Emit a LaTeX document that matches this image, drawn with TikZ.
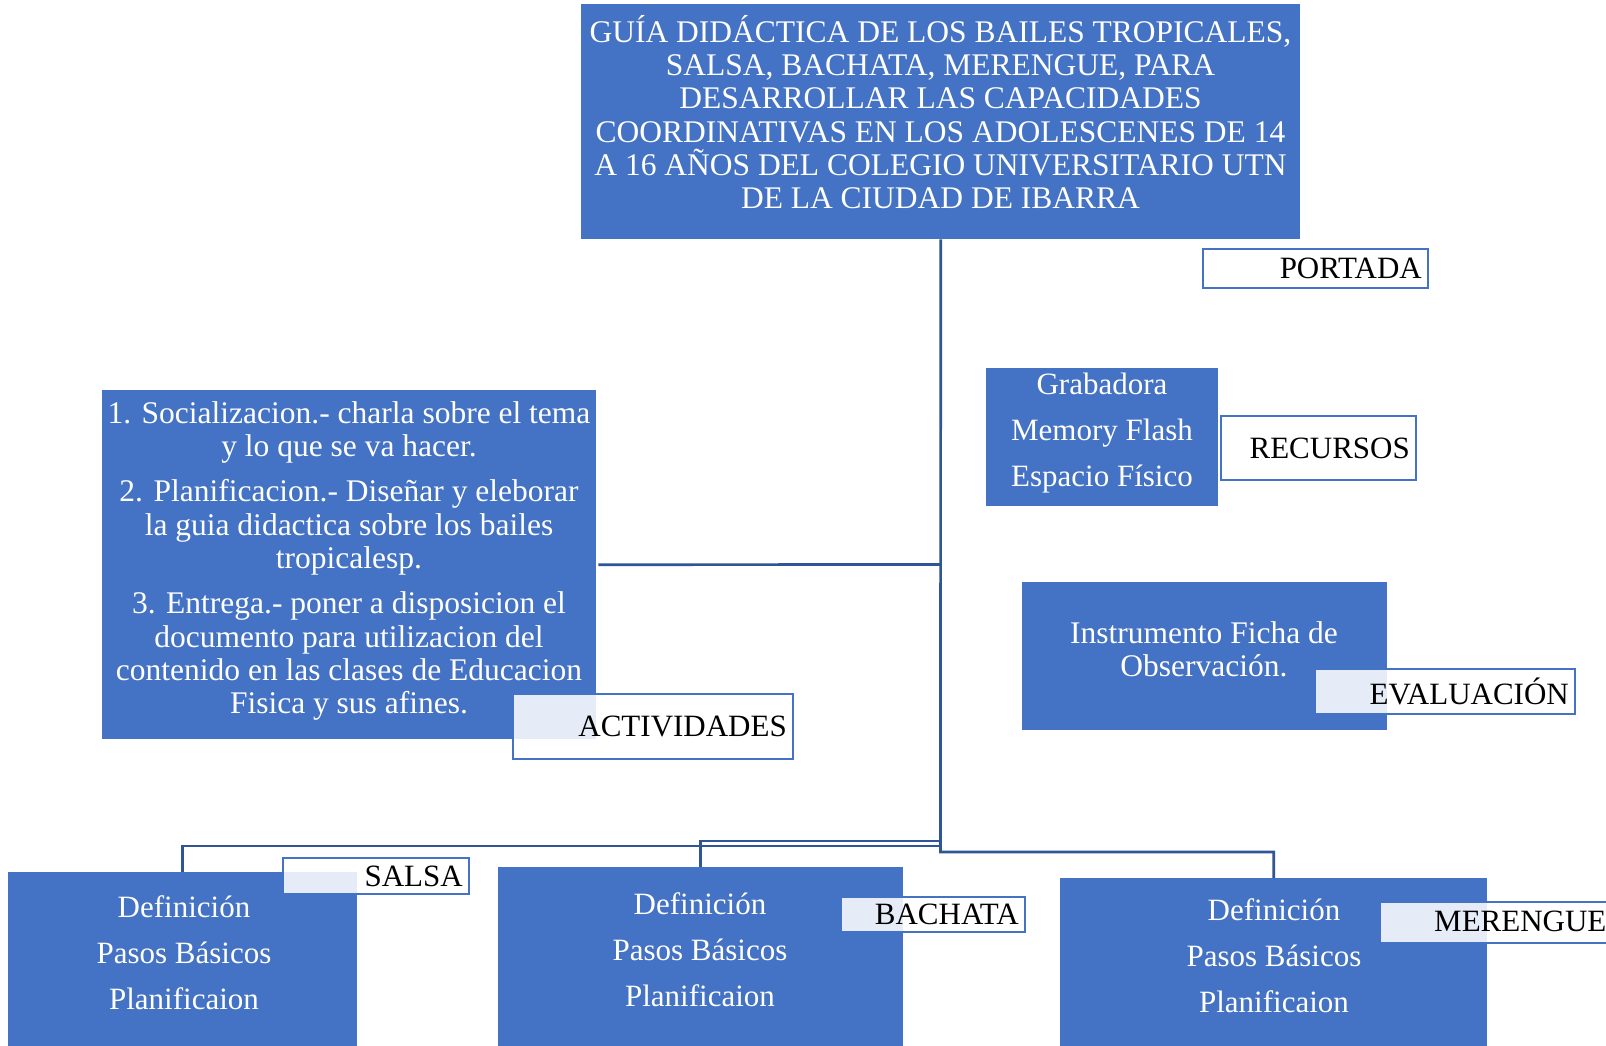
\documentclass[tikz,border=0pt]{standalone}
\usepackage{fontspec}
\setmainfont{Liberation Serif}
\definecolor{boxblue}{RGB}{68,114,196}
\definecolor{lineblue}{RGB}{47,85,151}
\definecolor{lblborder}{RGB}{68,114,196}
\begin{document}
\begin{tikzpicture}[x=1pt,y=-1pt,
 bluebox/.style={fill=boxblue, draw=none, inner sep=0pt, anchor=north west},
 lbl/.style={draw=lblborder, line width=2pt, fill=white, fill opacity=0.87, inner sep=0pt, anchor=north west},
 lbltext/.style={anchor=east, inner sep=0pt, text=black, font=\fontsize{31}{33}\selectfont},
 conn/.style={draw=lineblue, line width=2.7pt},
 wtext/.style={text=white, align=center, inner sep=0pt},
 tight/.style={font=\fontsize{31.5}{33.3}\selectfont},
 loose/.style={font=\fontsize{31}{46}\selectfont}]

\useasboundingbox (0,0) rectangle (1606,1046);
\fill[white] (0,0) rectangle (1606,1046);

% blue boxes
\node[bluebox, minimum width=719pt, minimum height=235pt] (title) at (581,4) {};
\node[bluebox, minimum width=494pt, minimum height=349pt] (act) at (102,390) {};
\node[bluebox, minimum width=232pt, minimum height=138pt] (rec) at (986,368) {};
\node[bluebox, minimum width=365pt, minimum height=148pt] (eva) at (1022,582) {};
\node[bluebox, minimum width=349pt, minimum height=190pt] (salsa) at (8,872) {};
\node[bluebox, minimum width=405pt, minimum height=190pt] (bachata) at (498,867) {};
\node[bluebox, minimum width=427pt, minimum height=190pt] (merengue) at (1060,878) {};

% connectors
\coordinate (jA) at (940.5,564.5);
\coordinate (jB) at (940.5,841);
\coordinate (jS) at (940.5,846);
\coordinate (jM) at (940.5,852);
\draw[conn] (title.south) -- (jM) -| (merengue.north);
\draw[conn] (jS) -| (salsa.north);
\draw[conn] (jB) -| (bachata.north);
\draw[conn] (jA) -- ([xshift=2pt]act.east);

% labels
\node[lbl, minimum width=225pt, minimum height=39pt] (portada) at (1202,248) {};
\node[lbl, minimum width=195pt, minimum height=64pt] (recursos) at (1220,415) {};
\node[lbl, minimum width=280pt, minimum height=65pt] (actividades) at (512,693) {};
\node[lbl, minimum width=260pt, minimum height=45pt] (evaluacion) at (1314,668) {};
\node[lbl, minimum width=186pt, minimum height=36pt] (salsaL) at (282,857) {};
\node[lbl, minimum width=184pt, minimum height=35pt] (bachataL) at (840,896) {};
\node[lbl, minimum width=250pt, minimum height=41pt] (merengueL) at (1379,901) {};

\node[lbltext] (portadaT) at ([xshift=-7pt]portada.east) {PORTADA};
\node[lbltext] (recursosT) at ([xshift=-7pt]recursos.east) {RECURSOS};
\node[lbltext] (actividadesT) at ([xshift=-7pt]actividades.east) {ACTIVIDADES};
\node[lbltext] (evaluacionT) at ([xshift=-7pt]evaluacion.east) {EVALUACIÓN};
\node[lbltext] (salsaLT) at ([xshift=-7pt]salsaL.east) {SALSA};
\node[lbltext] (bachataLT) at ([xshift=-7pt]bachataL.east) {BACHATA};
\node[lbltext, anchor=west] (merengueLT) at (1434,921) {MERENGUE};

% texts in boxes
\node[wtext, tight] (titleT) at (940.5,112) {GUÍA DIDÁCTICA DE LOS BAILES TROPICALES,\\ SALSA, BACHATA, MERENGUE, PARA\\ DESARROLLAR LAS CAPACIDADES\\ COORDINATIVAS EN LOS ADOLESCENES DE 14\\ A 16 AÑOS DEL COLEGIO UNIVERSITARIO UTN\\ DE LA CIUDAD DE IBARRA};
\node[wtext, tight] (actT) at (349,561) {1. Socializacion.- charla sobre el tema\\ y lo que se va hacer.\\[12pt] 2. Planificacion.- Diseñar y eleborar\\ la guia didactica sobre los bailes\\ tropicalesp.\\[12pt] 3. Entrega.- poner a disposicion el\\ documento para utilizacion del\\ contenido en las clases de Educacion\\ Fisica y sus afines.};
\node[wtext, loose] (recT) at (1102,433) {Grabadora\\ Memory Flash\\ Espacio Físico};
\node[wtext, tight] (evaT) at (1204,649) {Instrumento Ficha de\\ Observación.};
\node[wtext, loose] (salsaT) at (184,953) {Definición\\ Pasos Básicos\\ Planificaion};
\node[wtext, loose] (bachataT) at (700,950) {Definición\\ Pasos Básicos\\ Planificaion};
\node[wtext, loose] (merengueT) at (1274,956) {Definición\\ Pasos Básicos\\ Planificaion};
\end{tikzpicture}
\end{document}
